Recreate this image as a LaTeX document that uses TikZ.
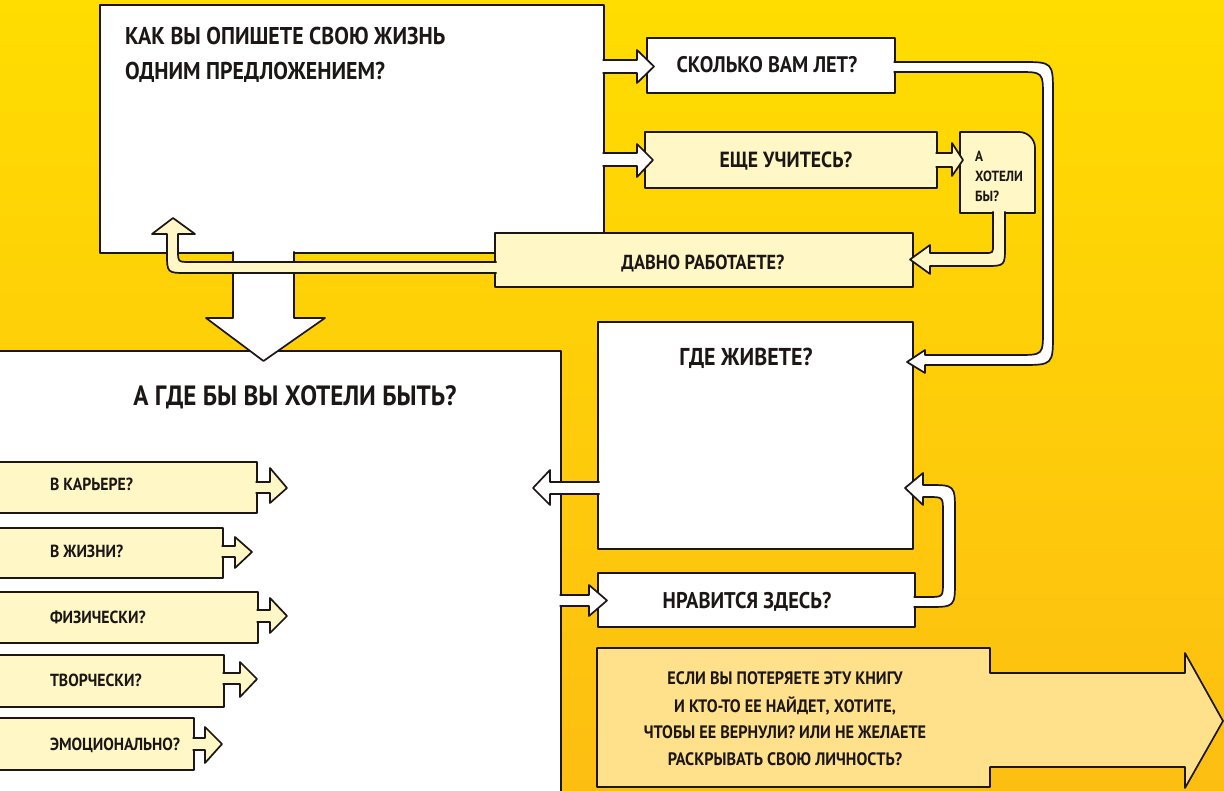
\documentclass[tikz,border=0pt]{standalone}
\usepackage{fontspec}
\newfontfamily\hand[FakeStretch=0.9]{PT Sans}
\usetikzlibrary{fit}
\definecolor{bgtop}{RGB}{255,221,0}
\definecolor{bgbot}{RGB}{253,190,18}
\definecolor{pale}{RGB}{255,247,198}
\definecolor{peach}{RGB}{255,225,140}
\definecolor{ink}{RGB}{28,22,22}
\begin{document}
\begin{tikzpicture}[x=1pt,y=-1pt,
  ln/.style={line width=1.7pt, line join=round, line cap=butt, draw=ink},
  wbox/.style={ln, fill=white, inner sep=0pt, outer sep=0pt},
  pbox/.style={ln, fill=pale, inner sep=0pt, outer sep=0pt},
  warr/.style={ln, fill=white},
  parr/.style={ln, fill=pale},
  txt/.style={inner sep=0pt, outer sep=0pt, text=ink},
  tL/.style={txt, font=\hand\bfseries\fontsize{24.3}{28}\selectfont},
  tG/.style={txt, font=\hand\bfseries\fontsize{24.4}{28}\selectfont},
  tT/.style={txt, font=\hand\bfseries\fontsize{27.9}{32}\selectfont},
  tM/.style={txt, font=\hand\bfseries\fontsize{22.5}{26}\selectfont},
  tU/.style={txt, font=\hand\bfseries\fontsize{21.9}{26}\selectfont},
  tN/.style={txt, font=\hand\bfseries\fontsize{22.7}{26}\selectfont},
  tD/.style={txt, font=\hand\bfseries\fontsize{20.3}{24}\selectfont},
  tS/.style={txt, font=\hand\bfseries\fontsize{17.5}{20}\selectfont},
  tX/.style={txt, font=\hand\bfseries\fontsize{14.7}{17}\selectfont},
  tE/.style={txt, font=\hand\bfseries\fontsize{18}{21}\selectfont}]
\useasboundingbox (0,0) rectangle (1224,791);
\shade[top color=bgtop, bottom color=bgbot] (0,0) rectangle (1224,791);
\clip (0,0) rectangle (1224,791);

% --- lower left big box and "where do you live" box
\node[wbox, fit={(-5,351) (561,800)}] (q6) {};
\node[wbox, fit={(598,322) (913,549)}] (q7) {};
\path[warr] (599.5,482) -- (550,482) -- (550,470) -- (533,488) -- (550,505) -- (550,494) -- (599.5,494);

% --- likes it here
\node[wbox, fit={(598,573) (915,627)}] (q8) {};
\path[warr] (559.5,595) -- (589,595) -- (589,585) -- (607,600.5) -- (589,616) -- (589,606) -- (559.5,606);
\path[warr] (913.5,597) -- (928,597) .. controls (943,597) .. (943,582) -- (943,512)
  .. controls (943,497) .. (928,497) -- (923,497) -- (923,505) -- (905,488) -- (923,473) -- (923,485)
  -- (928,485) .. controls (955,485) .. (955,512) -- (955,580) .. controls (955,607) .. (928,607) -- (913.5,607);

% --- top big box
\node[wbox, fit={(100,5) (604,253)}] (q1) {};
\node[pbox, fit={(495,233) (913,287)}] (q5) {};
\path[warr] (233,251.5) -- (233,318) -- (206,318) -- (263.5,361) -- (325,318) -- (294,318) -- (294,251.5);
\path[parr] (496.5,262) -- (190,262) .. controls (178,262) .. (178,250) -- (178,234) -- (195,234)
  -- (173,218) -- (152,234) -- (167,234) -- (167,253) .. controls (167,273) .. (187,273) -- (496.5,273);

% --- how old
\node[wbox, fit={(647,38) (895,93)}] (q2) {};
\path[warr] (602.5,60) -- (637,60) -- (637,50) -- (654,66.5) -- (637,83) -- (637,73) -- (602.5,73);
% --- still studying
\node[pbox, fit={(645,132) (937,188)}] (q3) {};
\path[warr] (602.5,153) -- (637,153) -- (637,144) -- (653,160) -- (637,177) -- (637,166) -- (602.5,166);
% --- would you like to
\path[pbox] (960,213) -- (960,132) -- (1019,132) arc[start angle=-90, end angle=0, radius=16] -- (1035,213) -- cycle;
\coordinate (q4) at (997,172);
\path[parr] (935.5,153) -- (952,153) -- (952,143) -- (963,160) -- (952,176) -- (952,167) -- (935.5,167);
\path[parr] (993,211.5) -- (993,245) .. controls (993,253) .. (985,253) -- (930,253) -- (930,245)
  -- (910,259.5) -- (930,274) -- (930,266) -- (985,266) .. controls (1005,266) .. (1005,246) -- (1005,211.5);
% --- loop from age to residence
\path[warr] (893.5,62) -- (1021,62) .. controls (1053,62) .. (1053,94) -- (1053,333)
  .. controls (1053,365) .. (1021,365) -- (925,365) -- (925,373) -- (907,362) -- (925,350) -- (925,355)
  -- (1018,355) .. controls (1043,355) .. (1043,330) -- (1043,97) .. controls (1043,72) .. (1018,72) -- (893.5,72);

% --- big bottom arrow
\path[ln, fill=peach] (597,648) -- (990,648) -- (990,673) -- (1185,673) -- (1185,653) -- (1223,721)
  -- (1185,788) -- (1185,767) -- (990,767) -- (990,787) -- (597,787) -- cycle;
\coordinate (q9) at (790,718);

% --- left label arrows
\node[pbox, fit={(-5,462) (257,513)}] (la) {};
\path[parr] (255.5,482) -- (270,482) -- (270,468) -- (287,488) -- (270,503) -- (270,493) -- (255.5,493);
\node[pbox, fit={(-5,528) (223,578)}] (lb) {};
\path[parr] (221.5,546) -- (235,546) -- (235,537) -- (252,552) -- (235,568) -- (235,557) -- (221.5,557);
\node[pbox, fit={(-5,592) (258,643)}] (lc) {};
\path[parr] (256.5,610) -- (270,610) -- (270,598) -- (287,616) -- (270,633) -- (270,622) -- (256.5,622);
\node[pbox, fit={(-5,655) (224,707)}] (ld) {};
\path[parr] (222.5,673) -- (240,673) -- (240,662) -- (257,679) -- (240,697) -- (240,684) -- (222.5,684);
\node[pbox, fit={(-5,718) (194,770)}] (le) {};
\path[parr] (192.5,738) -- (205,738) -- (205,727) -- (222,744) -- (205,763) -- (205,750) -- (192.5,750);

% --- texts
\node[tL, anchor=base west] (t1a) at (125,45) {КАК ВЫ ОПИШЕТЕ СВОЮ ЖИЗНЬ};
\node[tL, anchor=base west] (t1b) at (125,80) {ОДНИМ ПРЕДЛОЖЕНИЕМ?};
\node[tM, anchor=base] (t2) at (767,73) {СКОЛЬКО ВАМ ЛЕТ?};
\node[tU, anchor=base] (t3) at (786,168) {ЕЩЕ УЧИТЕСЬ?};
\node[tX, anchor=base west] (t4a) at (975,162) {А};
\node[tX, anchor=base west] (t4b) at (975,182) {ХОТЕЛИ};
\node[tX, anchor=base west] (t4c) at (975,202) {БЫ?};
\node[tD, anchor=base] (t5) at (703,270) {ДАВНО РАБОТАЕТЕ?};
\node[tT, anchor=base] (t6) at (295,406) {А ГДЕ БЫ ВЫ ХОТЕЛИ БЫТЬ?};
\node[tG, anchor=base] (t7) at (746,366) {ГДЕ ЖИВЕТЕ?};
\node[tN, anchor=base] (t8) at (747,608) {НРАВИТСЯ ЗДЕСЬ?};
\node[tE, anchor=base] (t9a) at (785,684) {ЕСЛИ ВЫ ПОТЕРЯЕТЕ ЭТУ КНИГУ};
\node[tE, anchor=base] (t9b) at (785,712) {И КТО-ТО ЕЕ НАЙДЕТ, ХОТИТЕ,};
\node[tE, anchor=base] (t9c) at (785,738) {ЧТОБЫ ЕЕ ВЕРНУЛИ? ИЛИ НЕ ЖЕЛАЕТЕ};
\node[tE, anchor=base] (t9d) at (785,765) {РАСКРЫВАТЬ СВОЮ ЛИЧНОСТЬ?};
\node[tS, anchor=base west] (ta) at (50,490) {В КАРЬЕРЕ?};
\node[tS, anchor=base west] (tb) at (50,557) {В ЖИЗНИ?};
\node[tS, anchor=base west] (tc) at (50,623) {ФИЗИЧЕСКИ?};
\node[tS, anchor=base west] (td) at (50,686) {ТВОРЧЕСКИ?};
\node[tS, anchor=base west] (te) at (50,750) {ЭМОЦИОНАЛЬНО?};
\end{tikzpicture}
\end{document}
